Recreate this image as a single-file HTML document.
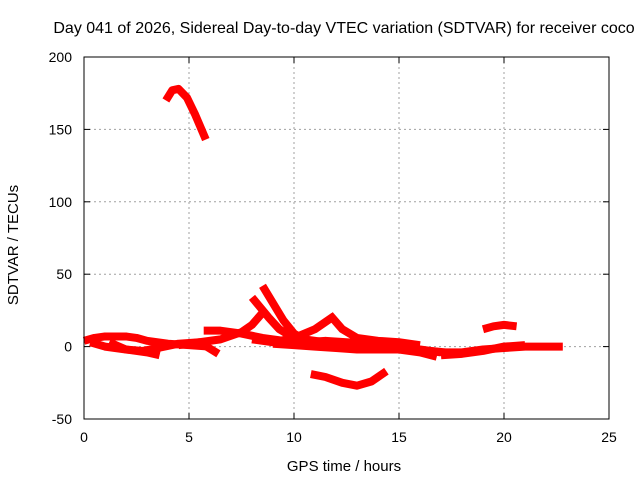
<!DOCTYPE html>
<html><head><meta charset="utf-8"><style>
body{margin:0;background:#fff}
svg{display:block;font-family:"Liberation Sans",sans-serif}
</style></head><body>
<svg id="chart" width="640" height="480">
<text x="344" y="33" font-size="16" text-anchor="middle">Day 041 of 2026, Sidereal Day-to-day VTEC variation (SDTVAR) for receiver coco</text>
<g id="grid"></g><g id="ticks"></g><g id="series"></g>
<rect x="84" y="57" width="525" height="362" fill="none" stroke="#000" stroke-width="1"/>
<text x="344" y="471" font-size="15" text-anchor="middle">GPS time / hours</text>
<text x="18" y="245" font-size="15" text-anchor="middle" transform="rotate(-90 18 245)">SDTVAR / TECUs</text>
</svg>
<script>
const xTicks=[0,5,10,15,20,25];
const yTicks=[-50,0,50,100,150,200];
const s1=[[3.9,170],[4.2,177],[4.5,178],[4.9,172],[5.3,160],[5.8,143]];
const s2=[[10.8,-19],[11.5,-21],[12.3,-25],[13,-27],[13.7,-24],[14.4,-17]];
const s3=[[19,12],[19.5,14],[20,15],[20.6,14]];
const s4=[[0,4],[0.5,6],[1,7],[2,7],[2.5,6],[3,4],[4,2],[5,1],[6,0]];
const s5=[[0.3,3],[1,0],[2,-2],[3,-4],[3.6,-6]];
const s6=[[1.2,3],[2,-2],[2.8,-3],[3.5,-1],[4.5,2],[5.5,3],[6.4,-5]];
const s7=[[5.7,11],[6.5,11],[7.5,9],[8.5,6],[9.5,4],[10.5,3],[11.5,4],[12.5,3],[13.5,2]];
const s8=[[4.5,1],[5.5,3],[6.5,5],[7.5,10],[8,15],[8.6,25]];
const s9=[[8,34],[8.4,27],[8.8,20],[9.3,12],[10,6],[11,4],[12,2]];
const s10=[[8.5,42],[9,30],[9.5,18],[10,9],[10.5,5]];
const s11=[[8,5],[9,3],[10,6],[11,12],[11.9,21]];
const s12=[[11.7,22],[12.3,12],[13,6],[14,4],[15,3],[16,1]];
const s13=[[9,2],[10,1],[11,0],[12,-1],[13,-2],[14,-2],[15,-2],[16,-4],[16.8,-7]];
const s14=[[12,2],[13,1],[14,0],[15,0],[16,-2],[17,-4]];
const s15=[[16.5,-3],[17.2,-4],[18,-4],[19,-2],[20,-1],[21,0],[22,0],[22.8,0]];
const s16=[[17,-6],[18,-5],[19,-3],[20,0],[21,1]];
const series=[s1,s2,s3,s4,s5,s6,s7,s8,s9,s10,s11,s12,s13,s14,s15,s16];
const X=v=>84+v*21, Y=v=>346.6-v*1.448;
const NS="http://www.w3.org/2000/svg";
const grid=document.getElementById('grid'),ticks=document.getElementById('ticks'),ser=document.getElementById('series');
function mk(t,a,p){const e=document.createElementNS(NS,t);for(const k in a)e.setAttribute(k,a[k]);p.appendChild(e);return e;}
xTicks.forEach(v=>{
 if(v>0&&v<25){const g=mk('line',{x1:X(v),x2:X(v),y1:57,y2:419,stroke:'#a0a0a0','stroke-dasharray':'2,3'},grid);
 
 }
 const t=mk('text',{x:X(v),y:442,'font-size':14,'text-anchor':'middle'},ticks);t.textContent=v;
 
 
 mk('line',{x1:X(v),x2:X(v),y1:419,y2:413,stroke:'#000'},ticks);mk('line',{x1:X(v),x2:X(v),y1:57,y2:63,stroke:'#000'},ticks);
});
yTicks.forEach(v=>{
 if(v>-50&&v<200){const g=mk('line',{x1:84,x2:609,y1:Y(v),y2:Y(v),stroke:'#a0a0a0','stroke-dasharray':'2,3'},grid);
 
 }
 const t=mk('text',{x:72,y:Y(v)+5,'font-size':14,'text-anchor':'end'},ticks);t.textContent=v;
 
 
 mk('line',{x1:84,x2:90,y1:Y(v),y2:Y(v),stroke:'#000'},ticks);mk('line',{x1:603,x2:609,y1:Y(v),y2:Y(v),stroke:'#000'},ticks);
});
series.forEach((s,i)=>{
 const p=mk('polyline',{points:s.map(d=>X(d[0])+','+Y(d[1])).join(' '),fill:'none',stroke:'#f00','stroke-width':8,'stroke-linejoin':'round'},ser);
 
 
});
</script>
</body></html>
